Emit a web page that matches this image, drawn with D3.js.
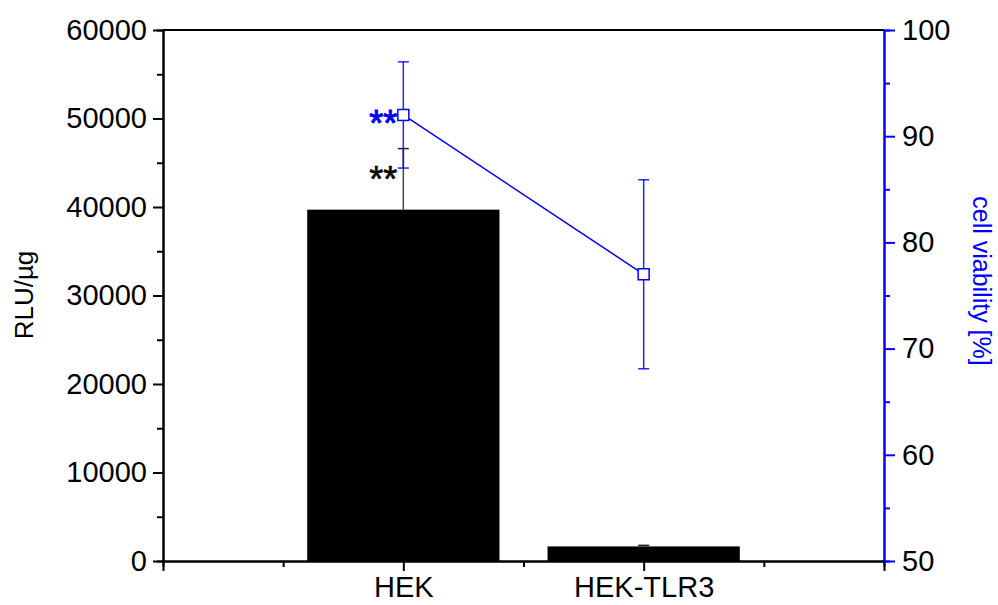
<!DOCTYPE html>
<html>
<head>
<meta charset="utf-8">
<script src="https://cdn.jsdelivr.net/npm/d3@7"></script>
<style>
  body { margin: 0; background: #fff; }
  svg text { font-family: "Liberation Sans", Arial, sans-serif; }
</style>
</head>
<body>
<svg id="viz" width="998" height="605"></svg>
<script>
// data
var categories = ["HEK", "HEK-TLR3"];
var rluValues = [39700, 1650];
var rluErrors = [6900, 120];
var viability = [92, 77];
var viabilityErrors = [5, 8.9];
var rluStars = ["**", ""];
var viabilityStars = ["**", ""];
var leftTicks = [0, 10000, 20000, 30000, 40000, 50000, 60000];
var rightTicks = [50, 60, 70, 80, 90, 100];

var blue = "#0000ff";
var svg = d3.select("#viz");
var plot = { left: 163, right: 884, top: 30, bottom: 561 };

// categories sit at 1 and 2 on a 0..3 scale, like the original plot
var x = d3.scaleLinear().domain([0, 3]).range([plot.left, plot.right]);
var catPos = function (i) { return x(i + 1); };
var yL = d3.scaleLinear().domain([0, 60000]).range([plot.bottom, plot.top]);
var yR = d3.scaleLinear().domain([50, 100]).range([plot.bottom, plot.top]);
var barW = x(0.8) - x(0);
var capW = 11;

var data = categories.map(function (c, i) {
    return { cat: c, i: i, rlu: rluValues[i], rluErr: rluErrors[i],
             via: viability[i], viaErr: viabilityErrors[i],
             rluStar: rluStars[i], viaStar: viabilityStars[i] };
});

// bars
svg.selectAll(".bar").data(data).enter().append("rect")
    .attr("class", "bar")
    .attr("x", function (d) { return catPos(d.i) - barW / 2; })
    .attr("y", function (d) { return yL(d.rlu); })
    .attr("width", barW)
    .attr("height", function (d) { return yL(0) - yL(d.rlu); })
    .attr("fill", "#000");

// bar error bars (upper half only, like the original)
var berr = svg.selectAll(".berr").data(data).enter().append("g");
berr.append("line")
    .attr("x1", function (d) { return catPos(d.i); })
    .attr("x2", function (d) { return catPos(d.i); })
    .attr("y1", function (d) { return yL(d.rlu); })
    .attr("y2", function (d) { return yL(d.rlu + d.rluErr); })
    .attr("stroke", "#444").attr("stroke-width", 1.5);
berr.append("line")
    .attr("x1", function (d) { return catPos(d.i) - capW / 2; })
    .attr("x2", function (d) { return catPos(d.i) + capW / 2; })
    .attr("y1", function (d) { return yL(d.rlu + d.rluErr); })
    .attr("y2", function (d) { return yL(d.rlu + d.rluErr); })
    .attr("stroke", "#222").attr("stroke-width", 1.5);

// viability error bars
var verr = svg.selectAll(".verr").data(data).enter().append("g");
verr.append("line")
    .attr("x1", function (d) { return catPos(d.i); })
    .attr("x2", function (d) { return catPos(d.i); })
    .attr("y1", function (d) { return yR(d.via - d.viaErr); })
    .attr("y2", function (d) { return yR(d.via + d.viaErr); })
    .attr("stroke", blue).attr("stroke-width", 1.5).attr("opacity", 0.85);
[-1, 1].forEach(function (s) {
    verr.append("line")
        .attr("x1", function (d) { return catPos(d.i) - capW / 2; })
        .attr("x2", function (d) { return catPos(d.i) + capW / 2; })
        .attr("y1", function (d) { return yR(d.via + s * d.viaErr); })
        .attr("y2", function (d) { return yR(d.via + s * d.viaErr); })
        .attr("stroke", blue).attr("stroke-width", 1.5).attr("opacity", 0.85);
});

// viability line + square markers
svg.append("path")
    .datum(data)
    .attr("fill", "none")
    .attr("stroke", blue)
    .attr("stroke-width", 1.5)
    .attr("d", d3.line()
        .x(function (d) { return catPos(d.i); })
        .y(function (d) { return yR(d.via); }));

svg.selectAll(".mark").data(data).enter().append("rect")
    .attr("x", function (d) { return catPos(d.i) - 5.5; })
    .attr("y", function (d) { return yR(d.via) - 5.5; })
    .attr("width", 11).attr("height", 11)
    .attr("fill", "#fff").attr("stroke", blue).attr("stroke-width", 1.5);

// significance stars
svg.selectAll(".vstar").data(data).enter().append("text")
    .attr("x", function (d) { return catPos(d.i) - 6; })
    .attr("y", function (d) { return yR(d.via) + 21; })
    .attr("text-anchor", "end")
    .attr("font-size", 36)
    .attr("fill", blue).attr("stroke", blue).attr("stroke-width", 1)
    .text(function (d) { return d.viaStar; });
svg.selectAll(".bstar").data(data).enter().append("text")
    .attr("x", function (d) { return catPos(d.i) - 6; })
    .attr("y", function (d) { return yL(d.rlu) - 18; })
    .attr("text-anchor", "end")
    .attr("font-size", 36)
    .attr("fill", "#000").attr("stroke", "#000").attr("stroke-width", 0.6)
    .text(function (d) { return d.rluStar; });

// axes
function styleAxis(g, color) {
    g.selectAll("path").attr("stroke", color).attr("stroke-width", 2);
    g.selectAll("line").attr("stroke", color).attr("stroke-width", 2);
    g.selectAll("text").attr("fill", "#000")
        .style("font-family", "'Liberation Sans', Arial, sans-serif")
        .attr("font-size", 29);
}

// minor ticks first
svg.append("g").attr("transform", "translate(" + plot.left + ",0)")
    .call(d3.axisLeft(yL).tickValues(d3.range(5000, 60000, 10000)).tickSize(6).tickFormat(""))
    .call(styleAxis, "#000");
svg.append("g").attr("transform", "translate(0," + plot.bottom + ")")
    .call(d3.axisBottom(x).tickValues([0.5, 1.5, 2.5]).tickSize(6).tickFormat(""))
    .call(styleAxis, "#000");

// top frame line
svg.append("line")
    .attr("x1", plot.left).attr("x2", plot.right)
    .attr("y1", plot.top).attr("y2", plot.top)
    .attr("stroke", "#000").attr("stroke-width", 2);

var gx = svg.append("g").attr("transform", "translate(0," + plot.bottom + ")")
    .call(d3.axisBottom(x).tickValues([0, 1, 2, 3]).tickSize(10).tickSizeOuter(0)
        .tickFormat(function (v) { return categories[v - 1] || ""; }))
    .call(styleAxis, "#000");
gx.selectAll("text").attr("dy", "0.78em");

var gl = svg.append("g").attr("transform", "translate(" + plot.left + ",0)")
    .call(d3.axisLeft(yL).tickValues(leftTicks).tickSize(10).tickSizeOuter(0)
        .tickPadding(6).tickFormat(d3.format("d")))
    .call(styleAxis, "#000");

var gr = svg.append("g").attr("transform", "translate(" + plot.right + ",0)");
gr.call(d3.axisRight(yR).tickValues(d3.range(55, 100, 10)).tickSize(6).tickFormat(""))
    .call(styleAxis, blue);
var gr2 = svg.append("g").attr("transform", "translate(" + plot.right + ",0)")
    .call(d3.axisRight(yR).tickValues(rightTicks).tickSize(11).tickSizeOuter(0)
        .tickPadding(7).tickFormat(d3.format("d")))
    .call(styleAxis, blue);

// axis titles
svg.append("text")
    .attr("transform", "translate(33,295) rotate(-90)")
    .attr("text-anchor", "middle")
    .attr("font-size", 26)
    .attr("fill", "#000")
    .text("RLU/µg");
svg.append("text")
    .attr("transform", "translate(973,281) rotate(90)")
    .attr("text-anchor", "middle")
    .attr("font-size", 25)
    .attr("fill", blue)
    .text("cell viability [%]");
</script>
</body>
</html>
